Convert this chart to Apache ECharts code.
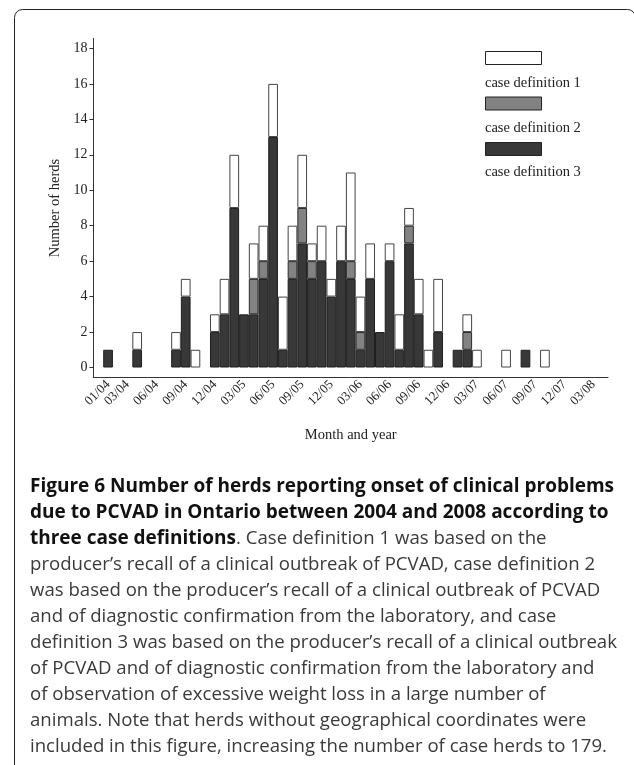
<!DOCTYPE html>
<html>
<head>
<meta charset="utf-8">
<script src="https://cdn.jsdelivr.net/npm/echarts@6/dist/echarts.min.js"></script>
<style>
  html, body { margin: 0; padding: 0; background: #fff; }
  #chart { width: 634px; height: 765px; }
</style>
</head>
<body>
<div id="chart"></div>
<script>
// Months on the x axis (one padding month at each end)
const months = [
  '12/03',
  '01/04','02/04','03/04','04/04','05/04','06/04','07/04','08/04','09/04','10/04','11/04','12/04',
  '01/05','02/05','03/05','04/05','05/05','06/05','07/05','08/05','09/05','10/05','11/05','12/05',
  '01/06','02/06','03/06','04/06','05/06','06/06','07/06','08/06','09/06','10/06','11/06','12/06',
  '01/07','02/07','03/07','04/07','05/07','06/07','07/07','08/07','09/07','10/07','11/07','12/07',
  '01/08','02/08','03/08','04/08'
];

// Months that carry a tick label
const xTickLabels = ['01/04','03/04','06/04','09/04','12/04','03/05','06/05','09/05','12/05',
  '03/06','06/06','09/06','12/06','03/07','06/07','09/07','12/07','03/08'];

const yTicks = [0, 2, 4, 6, 8, 10, 12, 14, 16, 18];

// Herds meeting case definition 3 (bottom segment)
const def3 = [0,
  1,0,0,1,0,0,0,1,4,0,0,2,
  3,9,3,3,5,13,1,5,7,5,6,4,
  6,5,1,5,2,6,1,7,3,0,2,0,
  1,1,0,0,0,0,0,1,0,0,0,0,
  0,0,0,0];

// Additional herds meeting case definition 2 but not 3
const def2Extra = [0,
  0,0,0,0,0,0,0,0,0,0,0,0,
  0,0,0,2,1,0,0,1,2,1,0,0,
  0,1,1,0,0,0,0,1,0,0,0,0,
  0,1,0,0,0,0,0,0,0,0,0,0,
  0,0,0,0];

// Additional herds meeting case definition 1 only
const def1Extra = [0,
  0,0,0,1,0,0,0,1,1,1,0,1,
  2,3,0,2,2,3,3,2,3,1,2,1,
  2,5,2,2,0,1,2,1,2,1,3,0,
  0,1,1,0,0,1,0,0,0,1,0,0,
  0,0,0,0];

const seriesNames = ['case definition 1', 'case definition 2', 'case definition 3'];

const serif = 'Liberation Serif';
const sans = 'Open Sans';
const ink = '#222';

// empty months draw nothing
const clean = arr => arr.map(v => (v === 0 ? '-' : v));

const chart = echarts.init(document.getElementById('chart'), null, { renderer: 'canvas' });

const bar = (name, data, color, edge) => ({
  name: name,
  type: 'bar',
  stack: 'herds',
  data: clean(data),
  barCategoryGap: '0%',
  itemStyle: { color: color, borderColor: edge, borderWidth: 1 },
  emphasis: { disabled: true },
  animation: false
});

const caption =
  '{b|Figure 6 Number of herds reporting onset of clinical problems}\n' +
  '{b|due to PCVAD in Ontario between 2004 and 2008 according to}\n' +
  '{b|three case definitions}{r|. Case definition 1 was based on the}\n' +
  '{r|producer\u2019s recall of a clinical outbreak of PCVAD, case definition 2}\n' +
  '{r|was based on the producer\u2019s recall of a clinical outbreak of PCVAD}\n' +
  '{r|and of diagnostic confirmation from the laboratory, and case}\n' +
  '{r|definition 3 was based on the producer\u2019s recall of a clinical outbreak}\n' +
  '{r|of PCVAD and of diagnostic confirmation from the laboratory and}\n' +
  '{r|of observation of excessive weight loss in a large number of}\n' +
  '{r|animals. Note that herds without geographical coordinates were}\n' +
  '{r|included in this figure, increasing the number of case herds to 179.}';

const legendTextY = [84, 128.5, 173];

chart.setOption({
  backgroundColor: '#fff',
  animation: false,
  title: {
    text: caption,
    left: 30,
    top: 474,
    padding: 0,
    textStyle: {
      rich: {
        b: { fontFamily: sans, fontWeight: 'bold', fontSize: 19, color: '#111', lineHeight: 26 },
        r: { fontFamily: sans, fontWeight: 'normal', fontSize: 18.6, color: '#3a3a3a', lineHeight: 26 }
      }
    }
  },
  legend: {
    data: seriesNames,
    orient: 'vertical',
    left: 485,
    top: 51,
    padding: 0,
    itemWidth: 56,
    itemHeight: 13,
    itemGap: 31.5,
    icon: 'rect',
    selectedMode: false,
    formatter: () => '',
    itemStyle: { borderColor: '#222', borderWidth: 1 }
  },
  graphic: [
    {
      type: 'rect',
      silent: true,
      shape: { x: 14.5, y: 9.5, width: 621, height: 800, r: 8 },
      style: { fill: 'none', stroke: '#222', lineWidth: 1 }
    }
  ].concat(seriesNames.map((n, i) => ({
    type: 'text',
    silent: true,
    left: 485,
    top: legendTextY[i] - 8,
    style: { text: n, font: '14.5px "' + serif + '"', fill: ink }
  }))),
  grid: { left: 93.5, right: 26, top: 38.5, bottom: 387.5 },
  xAxis: {
    type: 'category',
    data: months,
    boundaryGap: true,
    name: 'Month and year',
    nameLocation: 'middle',
    nameGap: 50,
    nameTextStyle: { fontFamily: serif, fontSize: 14.5, color: ink },
    axisLine: { onZero: false, lineStyle: { color: '#333', width: 1 } },
    axisTick: {
      alignWithLabel: true,
      length: 5,
      interval: (i, v) => xTickLabels.includes(v),
      lineStyle: { color: '#333' }
    },
    axisLabel: {
      interval: (i, v) => xTickLabels.includes(v),
      rotate: 45,
      margin: 5,
      fontFamily: serif,
      fontSize: 13,
      color: ink,
      hideOverlap: false
    },
    splitLine: { show: false }
  },
  yAxis: {
    type: 'value',
    min: -0.564,
    max: 18.56,
    name: 'Number of herds',
    nameLocation: 'middle',
    nameGap: 27,
    nameTextStyle: { fontFamily: serif, fontSize: 14.5, color: ink },
    axisLine: { show: true, lineStyle: { color: '#333', width: 1 } },
    axisTick: { show: true, length: 4, customValues: yTicks, lineStyle: { color: '#333' } },
    axisLabel: { customValues: yTicks, margin: 6, fontFamily: serif, fontSize: 14, color: ink },
    splitLine: { show: false }
  },
  series: [
    bar(seriesNames[2], def3, '#383838', '#1e1e1e'),
    bar(seriesNames[1], def2Extra, '#828282', '#2a2a2a'),
    bar(seriesNames[0], def1Extra, '#ffffff', '#444444')
  ]
});
</script>
</body>
</html>
